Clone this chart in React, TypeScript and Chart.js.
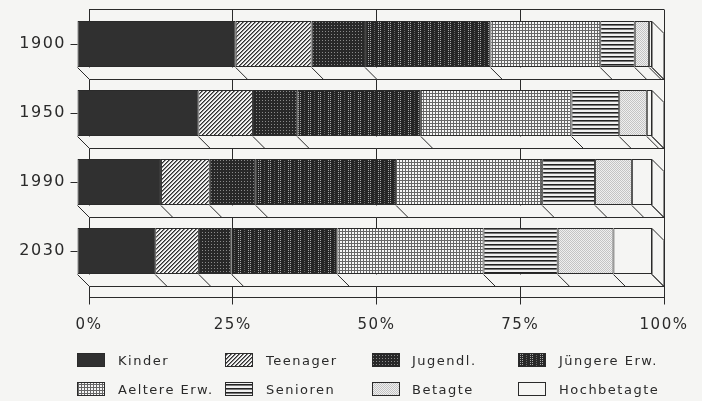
import React, { useEffect, useRef } from "react";
import { Chart, registerables } from "chart.js";

Chart.register(...registerables);

const categories = ["1900", "1950", "1990", "2030"];
const seriesNames = ["Kinder", "Teenager", "Jugendl.", "Jüngere Erw.", "Aeltere Erw.", "Senioren", "Betagte", "Hochbetagte"];
const kinder = [27.6, 21.1, 14.6, 13.6];
const teenager = [13.2, 9.5, 8.5, 7.6];
const jugendl = [9.3, 7.7, 8.0, 5.7];
const juengere = [21.8, 21.5, 24.4, 18.4];
const aeltere = [19.1, 26.2, 25.4, 25.4];
const senioren = [6.0, 8.3, 9.2, 12.9];
const betagte = [2.5, 4.8, 6.4, 9.7];
const hochbetagte = [0.5, 0.9, 3.5, 6.7];
const seriesValues = [kinder, teenager, jugendl, juengere, aeltere, senioren, betagte, hochbetagte];
const xTicks = [0, 25, 50, 75, 100];

const PAPER = "#f5f5f3";
const INK = "#2a2a2a";
const FONT = "DejaVu Sans";
const DEPTH = 12;
const LEGEND_COLS = [
  { swatch: 77, text: 118 },
  { swatch: 225, text: 266 },
  { swatch: 372, text: 412 },
  { swatch: 518, text: 559 },
];
const LEGEND_ROWS = [353, 382];

function makePattern(w: number, h: number, paint: (x: number, y: number) => string) {
  const c = document.createElement("canvas");
  c.width = w;
  c.height = h;
  const g = c.getContext("2d")!;
  for (let y = 0; y < h; y++) {
    for (let x = 0; x < w; x++) {
      g.fillStyle = paint(x, y);
      g.fillRect(x, y, 1, 1);
    }
  }
  return g.createPattern(c, "repeat")!;
}

function makeFills(): (CanvasPattern | string)[] {
  return [
    "#303030",
    makePattern(4, 4, (x, y) => ((x + y) % 4 === 0 ? "#2e2e2e" : (x + y) % 4 === 1 ? "#808080" : "#f2f2f2")),
    makePattern(3, 3, (x, y) => (x === 1 && y === 1 ? "#8a8a8a" : "#282828")),
    makePattern(10, 4, (x, y) => ((x === 0 || x === 2) && y % 2 === 0 ? "#a8a8a8" : x === 6 && y % 2 === 1 ? "#666666" : "#262626")),
    makePattern(3, 3, (x, y) => (x === 0 || y === 0 ? "#666666" : "#f6f6f6")),
    makePattern(1, 4, (_x, y) => (y === 0 ? "#222222" : y === 1 ? "#777777" : "#f0f0f0")),
    makePattern(2, 2, (x, y) => ((x + y) % 2 === 0 ? "#c4c4c4" : "#efefef")),
    PAPER,
  ];
}

export default function App() {
  const ref = useRef<HTMLCanvasElement>(null);

  useEffect(() => {
    const fills = makeFills();
    const plugin = {
      id: "depth3d",
      beforeLayout(chart: any) {
        chart.ctx.letterSpacing = "1.5px";
      },
      beforeDraw(chart: any) {
        const { ctx, width, height } = chart;
        ctx.letterSpacing = "1.5px";
        ctx.save();
        ctx.fillStyle = PAPER;
        ctx.fillRect(0, 0, width, height);
        ctx.restore();
      },
      beforeDatasetsDraw(chart: any) {
        const { ctx, chartArea } = chart;
        ctx.save();
        ctx.strokeStyle = INK;
        ctx.lineWidth = 1;
        ctx.beginPath();
        ctx.moveTo(chartArea.left, Math.round(chartArea.bottom + DEPTH - 1) + 0.5);
        ctx.lineTo(chartArea.right, Math.round(chartArea.bottom + DEPTH - 1) + 0.5);
        ctx.stroke();
        ctx.restore();

        ctx.save();
        ctx.translate(-DEPTH, 0);
        const metas = chart.getSortedVisibleDatasetMetas();
        const first = metas[0].data;
        const last = metas[metas.length - 1].data;
        ctx.strokeStyle = INK;
        ctx.lineWidth = 1;
        first.forEach((bar0: any, i: number) => {
          const barN = last[i];
          const left = bar0.base;
          const right = barN.x;
          const top = Math.round(bar0.y - bar0.height / 2) + 0.5;
          const bottom = Math.round(bar0.y + bar0.height / 2) + 0.5;
          ctx.fillStyle = PAPER;
          ctx.beginPath();
          ctx.moveTo(left, bottom);
          ctx.lineTo(right, bottom);
          ctx.lineTo(right + DEPTH, bottom + DEPTH);
          ctx.lineTo(left + DEPTH, bottom + DEPTH);
          ctx.closePath();
          ctx.fill();
          ctx.beginPath();
          ctx.moveTo(right, top);
          ctx.lineTo(right + DEPTH, top + DEPTH);
          ctx.lineTo(right + DEPTH, bottom + DEPTH);
          ctx.lineTo(right, bottom);
          ctx.closePath();
          ctx.fill();
          ctx.stroke();
          ctx.beginPath();
          ctx.moveTo(left, bottom);
          ctx.lineTo(left + DEPTH, bottom + DEPTH);
          ctx.lineTo(right + DEPTH, bottom + DEPTH);
          metas.forEach((m: any) => {
            const x = m.data[i].x;
            ctx.moveTo(x, bottom);
            ctx.lineTo(x + DEPTH, bottom + DEPTH);
          });
          ctx.stroke();
        });
      },
      afterDatasetsDraw(chart: any) {
        const { ctx } = chart;
        ctx.restore();
        const meta = chart.getSortedVisibleDatasetMetas()[0].data;
        ctx.save();
        ctx.strokeStyle = INK;
        ctx.lineWidth = 1;
        meta.forEach((bar: any) => {
          const y = Math.round(bar.y) + 0.5;
          const x = bar.base - DEPTH;
          ctx.beginPath();
          ctx.moveTo(x - 7, y);
          ctx.lineTo(x, y);
          ctx.stroke();
        });
        ctx.restore();
      },
      afterDraw(chart: any) {
        const { ctx } = chart;
        ctx.save();
        ctx.letterSpacing = "1.5px";
        ctx.font = `13px "${FONT}"`;
        ctx.textBaseline = "middle";
        chart.data.datasets.forEach((ds: any, i: number) => {
          const col = LEGEND_COLS[i % 4];
          const y = LEGEND_ROWS[Math.floor(i / 4)];
          ctx.fillStyle = ds.backgroundColor;
          ctx.fillRect(col.swatch, y, 28, 14);
          ctx.strokeStyle = INK;
          ctx.lineWidth = 1;
          ctx.strokeRect(col.swatch + 0.5, y + 0.5, 27, 13);
          ctx.fillStyle = INK;
          ctx.textAlign = "left";
          ctx.fillText(ds.label, col.text, y + 9);
        });
        ctx.restore();
      },
    };

    const chart = new Chart(ref.current!, {
      type: "bar",
      data: {
        labels: categories,
        datasets: seriesNames.map((label, i) => ({
          label,
          data: seriesValues[i],
          backgroundColor: fills[i] as any,
          borderColor: INK,
          borderWidth: 1,
          borderSkipped: false,
          categoryPercentage: 1,
          barPercentage: 46 / 69,
        })),
      },
      options: {
        indexAxis: "y",
        responsive: false,
        animation: false,
        devicePixelRatio: 1,
        layout: { padding: { left: 0, right: 38, top: 9.5, bottom: 0 } },
        plugins: { legend: { display: false }, title: { display: false }, tooltip: { enabled: false } },
        scales: {
          x: {
            type: "linear",
            stacked: true,
            min: 0,
            max: 100,
            afterBuildTicks(scale: any) {
              scale.ticks = xTicks.map((value) => ({ value }));
            },
            afterFit(scale: any) {
              scale.height = 115.5;
              scale.paddingLeft = 0;
              scale.paddingRight = 0;
              scale.paddingTop = 0;
              scale.paddingBottom = 0;
            },
            grid: { color: INK, lineWidth: 1, drawTicks: true, tickLength: 19, tickColor: INK },
            border: { color: INK },
            ticks: {
              color: INK,
              padding: 12,
              maxRotation: 0,
              autoSkip: false,
              font: { family: FONT, size: 15 },
              callback: (v: any) => `${v}%`,
            },
          },
          y: {
            type: "category",
            stacked: true,
            afterFit(scale: any) {
              scale.width = 89;
              scale.paddingTop = 0;
              scale.paddingBottom = 0;
              scale.paddingLeft = 0;
              scale.paddingRight = 0;
            },
            grid: { color: INK, lineWidth: 1, drawTicks: false, offset: true },
            border: { color: INK },
            ticks: { color: INK, padding: 23, font: { family: FONT, size: 16 } },
          },
        },
      },
      plugins: [plugin],
    } as any);
    return () => chart.destroy();
  }, []);

  return (
    <div style={{ position: "fixed", left: 0, top: 0, width: 702, height: 401 }}>
      <canvas ref={ref} width={702} height={401} style={{ display: "block" }} />
    </div>
  );
}
